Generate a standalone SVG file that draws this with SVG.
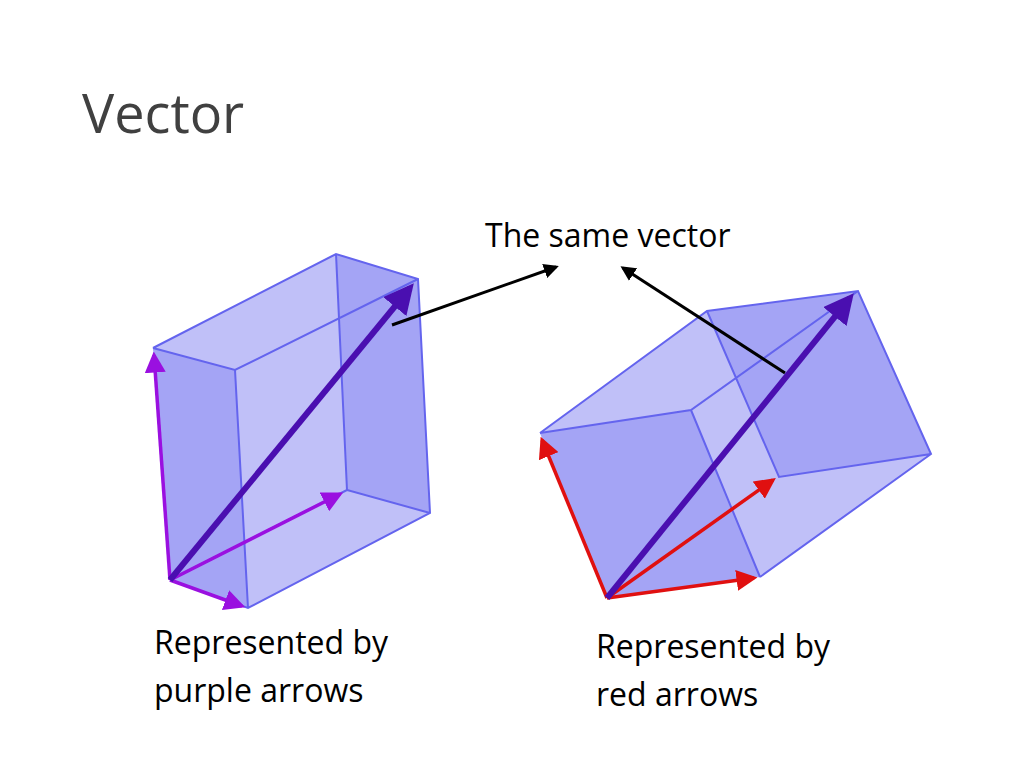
<svg xmlns="http://www.w3.org/2000/svg" width="1024" height="768" viewBox="0 0 1024 768">
<defs>
<style>
text{font-family:"Open Sans","Noto Sans",sans-serif;fill:#000}
.f{fill:#8c8cf2;fill-opacity:0.55;stroke:none}
.e{stroke:#6464ee;stroke-width:2;fill:none}
.d{stroke:#4a0fb0;stroke-width:6;fill:none}
.p{stroke:#9a10e0;stroke-width:3.5;fill:none}
.r{stroke:#e01010;stroke-width:3.5;fill:none}
.k{stroke:#000;stroke-width:3;fill:none}
</style>
<marker id="md" markerWidth="5" markerHeight="5" refX="4" refY="2.5" orient="auto"><path d="M0,0L5,2.5L0,5z" fill="#4a0fb0"/></marker>
<marker id="mp" markerWidth="6" markerHeight="6" refX="5" refY="3" orient="auto"><path d="M0,0L6,3L0,6z" fill="#9a10e0"/></marker>
<marker id="mr" markerWidth="6" markerHeight="6" refX="5" refY="3" orient="auto"><path d="M0,0L6,3L0,6z" fill="#e01010"/></marker>
<marker id="mk" markerWidth="5" markerHeight="5" refX="4" refY="2.5" orient="auto"><path d="M0,0L5,2.5L0,5z" fill="#000"/></marker>
</defs>
<rect width="1024" height="768" fill="#fff"/>
<text x="82" y="133" font-size="54" style="fill:#404040">Vector</text>
<g id="cube-left">
<polygon class="f" points="170,580 153,348 336,254 418,279 430,513 248,608"/>
<polygon class="f" points="170,580 153,348 235,370 248,608"/>
<polygon class="f" points="336,254 347,490 430,513 418,279"/>
<path class="e" d="M153,348L336,254L418,279L430,513L248,608L170,580M153,348L235,370L418,279M235,370L248,608M336,254L347,490L430,513M347,490L170,580"/>
<line class="p" x1="170" y1="580" x2="154" y2="355" marker-end="url(#mp)"/>
<line class="p" x1="170" y1="580" x2="340" y2="494" marker-end="url(#mp)"/>
<line class="p" x1="170" y1="580" x2="242" y2="606" marker-end="url(#mp)"/>
<line class="d" x1="170" y1="580" x2="410" y2="288" marker-end="url(#md)"/>
</g>
<g id="cube-right">
<polygon class="f" points="607,598 540,433 707,311 858,291 931,454 760,577"/>
<polygon class="f" points="540,433 691,410 760,577 607,598"/>
<polygon class="f" points="707,311 858,291 931,454 779,477"/>
<path class="e" d="M540,433L707,311L858,291L931,454L760,577M540,433L691,410L858,291M691,410L760,577M707,311L779,477L931,454"/>
<line class="r" x1="607" y1="598" x2="542" y2="440" marker-end="url(#mr)"/>
<line class="r" x1="607" y1="598" x2="773" y2="480" marker-end="url(#mr)"/>
<line class="r" x1="607" y1="598" x2="754" y2="578" marker-end="url(#mr)"/>
<line class="d" x1="607" y1="598" x2="850" y2="298" marker-end="url(#md)"/>
</g>
<g id="connectors">
<line class="k" x1="392" y1="325" x2="556" y2="267" marker-end="url(#mk)"/>
<line class="k" x1="785" y1="373" x2="623" y2="268" marker-end="url(#mk)"/>
</g>
<g id="labels">
<text x="485" y="247" font-size="32">The same vector</text>
<text x="154" y="654" font-size="32">Represented by</text>
<text x="154" y="702" font-size="32">purple arrows</text>
<text x="596" y="658" font-size="32">Represented by</text>
<text x="596" y="706" font-size="32">red arrows</text>
</g>
</svg>
